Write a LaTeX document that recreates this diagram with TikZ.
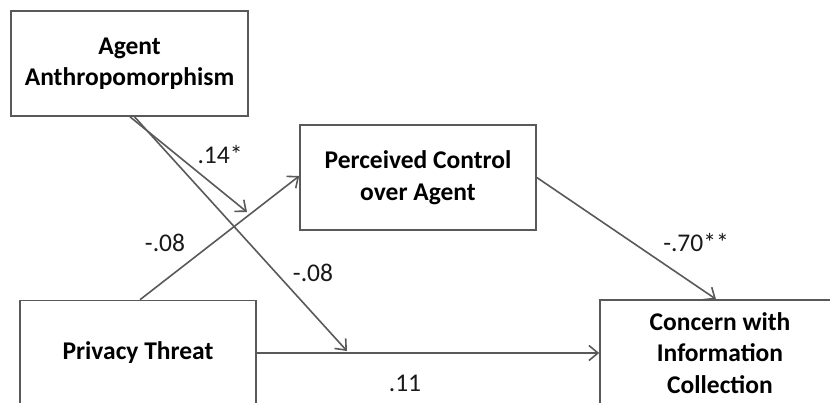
\documentclass[tikz,border=0pt]{standalone}
\usepackage{fontspec}
\setmainfont{Carlito}
\usetikzlibrary{arrows.meta}

\begin{document}
\begin{tikzpicture}[
    x=1pt, y=-1pt,
    font=\fontsize{25}{31}\selectfont,
    >={Straight Barb[length=9pt,width=15pt,line width=1.6pt]},
    var/.style={draw=black!65, line width=1.6pt, align=center, font=\fontsize{25.5}{31.5}\selectfont\bfseries, inner sep=2pt},
    arrow/.style={->, draw=black!65, line width=1.6pt},
    coef/.style={font=\fontsize{25.5}{30}\selectfont, text=black!90}
  ]
    \useasboundingbox (0,0) rectangle (830,402);
    \clip (0,0) rectangle (830,402);

    \node[var, minimum width=237pt, minimum height=105pt] (agent) at (129.5,63.5) {Agent\\Anthropomorphism};
    \node[var, minimum width=236pt, minimum height=105pt] (control) at (418,177.5) {Perceived Control\\over Agent};
    \node[var, minimum width=236pt, minimum height=105pt] (threat) at (138,353) {Privacy Threat};
    \node[var, minimum width=240pt, minimum height=106pt] (concern) at (720,353) {Concern with\\Information\\Collection};

    % moderation arrows end on the paths
    \coordinate (modA) at (247,212);
    \coordinate (modB) at (347,351);

    \draw[arrow] ([xshift=0.5pt]agent.south) -- (modA);
    \draw[arrow] ([xshift=5pt]agent.south) -- (modB);
    \draw[arrow] ([xshift=2pt]threat.north) -- ([yshift=1.5pt]control.west);
    \draw[arrow] (control.east) -- ([xshift=-4pt]concern.north);
    \draw[arrow] (threat.east) -- (concern.west);

    \node[coef] (b1) at (220,155) {.14*};
    \node[coef] (b2) at (165,243) {-.08};
    \node[coef] (b3) at (313,273) {-.08};
    \node[coef] (b4) at (696,243) {-.70**};
    \node[coef] (b5) at (405,383) {.11};
  \end{tikzpicture}
\end{document}
